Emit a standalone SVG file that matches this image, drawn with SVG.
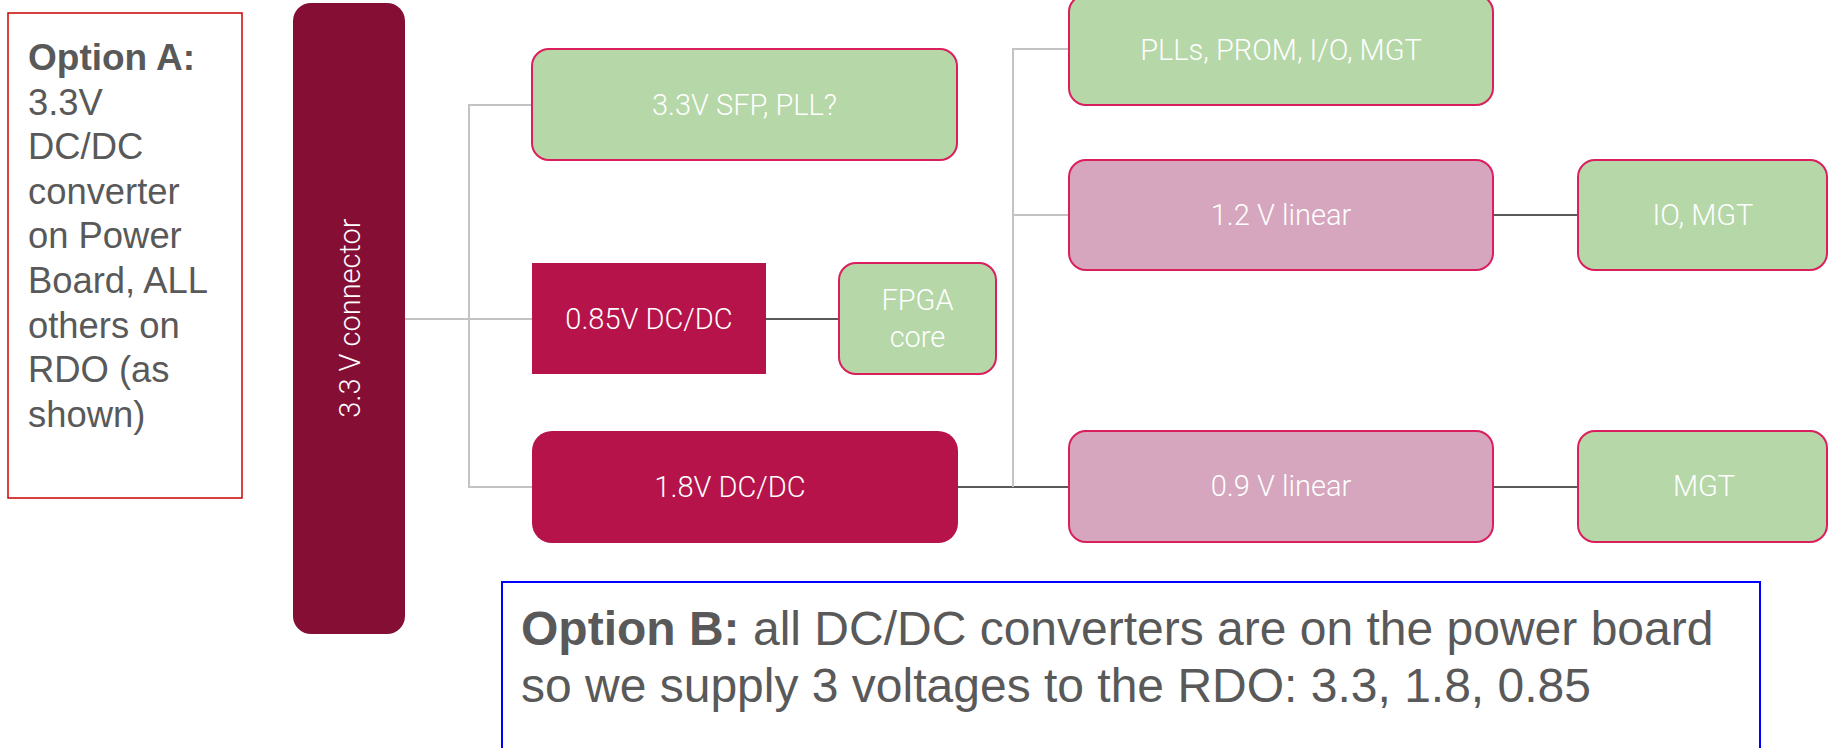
<svg xmlns="http://www.w3.org/2000/svg" width="1829" height="748" viewBox="0 0 1829 748">
<style>
.note{font-family:"Liberation Sans",Arial,sans-serif;fill:#595959}
.lbl{font-family:Roboto,"Noto Sans",sans-serif;font-size:29px;font-weight:300;fill:#ffffff;text-anchor:middle}
.green{fill:#B6D7A8;stroke:#DA1F5C;stroke-width:2}
.pink{fill:#D5A6BD;stroke:#DA1F5C;stroke-width:2}
.dc{fill:#B5134A}
.lg{stroke:#C3C3C3;stroke-width:2;fill:none}
.dg{stroke:#595959;stroke-width:2;fill:none}
</style>
<rect width="1829" height="748" fill="#ffffff"/>
<g id="connectors">
<line class="lg" x1="405" y1="319" x2="532" y2="319"/>
<polyline class="lg" points="532,105 469,105 469,487 532,487"/>
<line class="dg" x1="766" y1="319" x2="839" y2="319"/>
<line class="dg" x1="958" y1="487" x2="1069" y2="487"/>
<polyline class="lg" points="1069,49 1013,49 1013,487"/>
<line class="lg" x1="1013" y1="215" x2="1069" y2="215"/>
<line class="dg" x1="1493" y1="215" x2="1578" y2="215"/>
<line class="dg" x1="1493" y1="487" x2="1578" y2="487"/>
</g>
<g id="optionA">
<rect x="8" y="13" width="234" height="485" fill="#ffffff" stroke="#CC0000" stroke-width="1.5"/>
<text class="note" x="28" y="70" font-size="37" font-weight="bold">Option A:</text>
<text class="note" font-size="36.4">
<tspan x="28" y="114.6">3.3V</tspan>
<tspan x="28" y="159.2">DC/DC</tspan>
<tspan x="28" y="203.8">converter</tspan>
<tspan x="28" y="248.4">on Power</tspan>
<tspan x="28" y="293">Board, ALL</tspan>
<tspan x="28" y="337.6">others on</tspan>
<tspan x="28" y="382.2">RDO (as</tspan>
<tspan x="28" y="426.8">shown)</tspan>
</text>
</g>
<g id="conn33">
<rect x="293" y="3" width="112" height="631" rx="18" fill="#850E35"/>
<text class="lbl" transform="translate(360,318) rotate(-90)" x="0" y="0">3.3 V connector</text>
</g>
<g id="sfp">
<rect class="green" x="532" y="49" width="425" height="111" rx="17"/>
<text class="lbl" x="744.5" y="115">3.3V SFP, PLL?</text>
</g>
<g id="dc085">
<rect class="dc" x="532" y="263" width="234" height="111"/>
<text class="lbl" x="649" y="329">0.85V DC/DC</text>
</g>
<g id="fpga">
<rect class="green" x="839" y="263" width="157" height="111" rx="17"/>
<text class="lbl" x="917.5" y="310">FPGA</text>
<text class="lbl" x="917.5" y="347">core</text>
</g>
<g id="dc18">
<rect class="dc" x="532" y="431" width="426" height="112" rx="20"/>
<text class="lbl" x="730" y="497">1.8V DC/DC</text>
</g>
<g id="plls">
<rect class="green" x="1069" y="-5" width="424" height="110" rx="17"/>
<text class="lbl" x="1281" y="60">PLLs, PROM, I/O, MGT</text>
</g>
<g id="lin12">
<rect class="pink" x="1069" y="160" width="424" height="110" rx="17"/>
<text class="lbl" x="1281" y="225">1.2 V linear</text>
</g>
<g id="iomgt">
<rect class="green" x="1578" y="160" width="249" height="110" rx="17"/>
<text class="lbl" x="1703" y="225">IO, MGT</text>
</g>
<g id="lin09">
<rect class="pink" x="1069" y="431" width="424" height="111" rx="17"/>
<text class="lbl" x="1281" y="496">0.9 V linear</text>
</g>
<g id="mgt">
<rect class="green" x="1578" y="431" width="249" height="111" rx="17"/>
<text class="lbl" x="1704" y="496">MGT</text>
</g>
<g id="optionB">
<rect x="502" y="582" width="1258" height="200" fill="#ffffff" stroke="#0000FF" stroke-width="2"/>
<text class="note" x="521" y="645" font-size="48"><tspan font-weight="bold">Option B:</tspan> all DC/DC converters are on the power board</text>
<text class="note" x="521" y="702" font-size="48">so we supply 3 voltages to the RDO: 3.3, 1.8, 0.85</text>
</g>
</svg>
